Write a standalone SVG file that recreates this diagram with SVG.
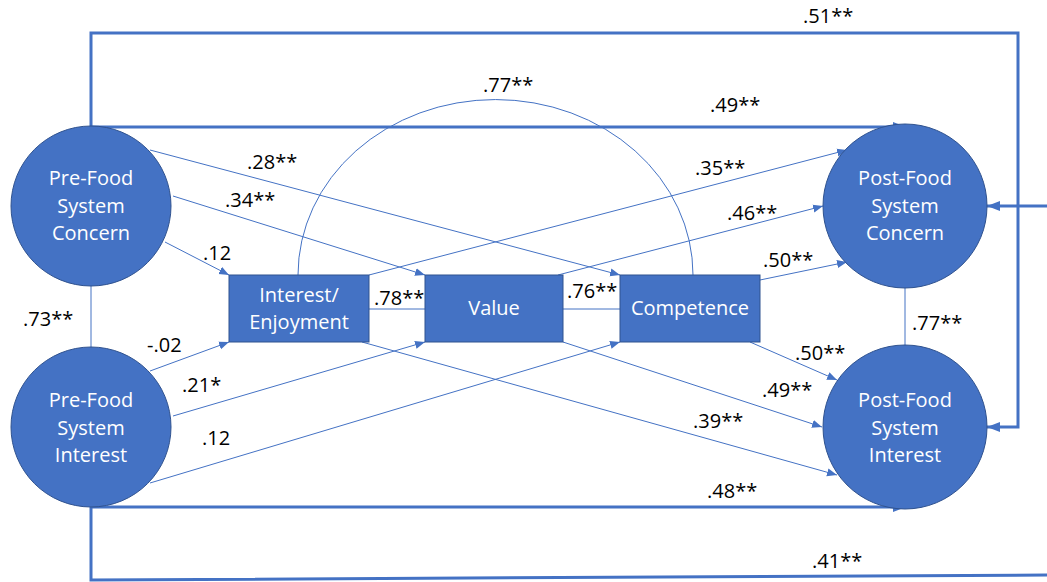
<svg xmlns="http://www.w3.org/2000/svg" width="1047" height="582" viewBox="0 0 1047 582">
  <style>
    .node { fill: #4472c4; stroke: #2f528f; stroke-width: 1; }
    .ntxt { fill: #ffffff; font-family: "Open Sans", "Liberation Sans", sans-serif; font-size: 20px; text-anchor: middle; }
    .lbl { fill: #000000; font-family: "Open Sans", "Liberation Sans", sans-serif; font-size: 20px; }
    .thin { fill: none; stroke: #4472c4; stroke-width: 1; }
    .thick { fill: none; stroke: #4472c4; stroke-width: 3; }
  </style>
  <defs>
    <marker id="arrSm" markerUnits="userSpaceOnUse" markerWidth="10" markerHeight="10" viewBox="0 0 10 10" refX="10" refY="5" orient="auto">
      <path d="M0,1 L10,5 L0,9 Z" fill="#4472c4"/>
    </marker>
    <marker id="arrLg" markerUnits="userSpaceOnUse" markerWidth="13" markerHeight="12" viewBox="0 0 13 12" refX="13" refY="6" orient="auto">
      <path d="M0,1 L13,6 L0,11 Z" fill="#4472c4"/>
    </marker>
  </defs>

  <rect width="1047" height="582" fill="#ffffff"/>

  <g id="connectors">
    <!-- correlations (no heads) -->
    <line class="thin" x1="91" y1="285" x2="91" y2="347"/>
    <line class="thin" x1="905" y1="285" x2="905" y2="347"/>
    <line class="thin" x1="369" y1="309" x2="425" y2="309"/>
    <line class="thin" x1="563" y1="309" x2="620" y2="309"/>
    <path class="thin" d="M298,275 A197,175 0 0 1 693,275"/>

    <!-- pre-concern to mediators -->
    <line class="thin" x1="165" y1="242" x2="229" y2="275" marker-end="url(#arrSm)"/>
    <line class="thin" x1="173" y1="196" x2="425" y2="275" marker-end="url(#arrSm)"/>
    <line class="thin" x1="150" y1="150" x2="620" y2="275" marker-end="url(#arrSm)"/>

    <!-- pre-interest to mediators -->
    <line class="thin" x1="150" y1="371" x2="229" y2="342" marker-end="url(#arrSm)"/>
    <line class="thin" x1="173" y1="416" x2="425" y2="342" marker-end="url(#arrSm)"/>
    <line class="thin" x1="150" y1="483" x2="620" y2="342" marker-end="url(#arrSm)"/>

    <!-- mediators to post-concern -->
    <line class="thin" x1="369" y1="275" x2="847" y2="150" marker-end="url(#arrSm)"/>
    <line class="thin" x1="558" y1="275" x2="823" y2="206" marker-end="url(#arrSm)"/>
    <line class="thin" x1="760" y1="280" x2="847" y2="262" marker-end="url(#arrSm)"/>

    <!-- mediators to post-interest -->
    <line class="thin" x1="750" y1="342" x2="837" y2="380" marker-end="url(#arrSm)"/>
    <line class="thin" x1="563" y1="342" x2="822" y2="427" marker-end="url(#arrSm)"/>
    <line class="thin" x1="362" y1="342" x2="837" y2="475" marker-end="url(#arrSm)"/>

    <!-- stability paths -->
    <line class="thick" x1="91" y1="127" x2="906" y2="127" marker-end="url(#arrLg)"/>
    <line class="thick" x1="91" y1="507" x2="906" y2="507" marker-end="url(#arrLg)"/>

    <!-- cross-lagged paths -->
    <path class="thick" d="M91,127 L91,33 L1018,33 L1018,427 L987,427" marker-end="url(#arrLg)"/>
    <path class="thick" d="M91,507 L91,580 L1050,575"/>
    <line class="thick" x1="1050" y1="206" x2="987" y2="206" marker-end="url(#arrLg)"/>
  </g>

  <g id="pre-concern">
    <circle class="node" cx="91" cy="206" r="80"/>
    <text class="ntxt" x="91" y="185">Pre-Food</text>
    <text class="ntxt" x="91" y="213">System</text>
    <text class="ntxt" x="91" y="240">Concern</text>
  </g>
  <g id="pre-interest">
    <circle class="node" cx="91" cy="427" r="80"/>
    <text class="ntxt" x="91" y="407">Pre-Food</text>
    <text class="ntxt" x="91" y="435">System</text>
    <text class="ntxt" x="91" y="462">Interest</text>
  </g>
  <g id="post-concern">
    <circle class="node" cx="905" cy="206" r="82"/>
    <text class="ntxt" x="905" y="185">Post-Food</text>
    <text class="ntxt" x="905" y="213">System</text>
    <text class="ntxt" x="905" y="240">Concern</text>
  </g>
  <g id="post-interest">
    <circle class="node" cx="905" cy="427" r="82"/>
    <text class="ntxt" x="905" y="407">Post-Food</text>
    <text class="ntxt" x="905" y="435">System</text>
    <text class="ntxt" x="905" y="462">Interest</text>
  </g>
  <g id="interest-enjoyment">
    <rect class="node" x="229" y="275" width="140" height="67"/>
    <text class="ntxt" x="299" y="302">Interest/</text>
    <text class="ntxt" x="299" y="329">Enjoyment</text>
  </g>
  <g id="value">
    <rect class="node" x="425" y="275" width="138" height="67"/>
    <text class="ntxt" x="494" y="315">Value</text>
  </g>
  <g id="competence">
    <rect class="node" x="620" y="275" width="140" height="67"/>
    <text class="ntxt" x="690" y="315">Competence</text>
  </g>

  <g id="labels">
    <text class="lbl" x="803" y="23">.51**</text>
    <text class="lbl" x="710" y="112">.49**</text>
    <text class="lbl" x="483" y="92">.77**</text>
    <text class="lbl" x="247" y="169">.28**</text>
    <text class="lbl" x="225" y="207">.34**</text>
    <text class="lbl" x="203" y="260">.12</text>
    <text class="lbl" x="695" y="175">.35**</text>
    <text class="lbl" x="727" y="220">.46**</text>
    <text class="lbl" x="763" y="267">.50**</text>
    <text class="lbl" x="23" y="326">.73**</text>
    <text class="lbl" x="374" y="305">.78**</text>
    <text class="lbl" x="567" y="298">.76**</text>
    <text class="lbl" x="912" y="330">.77**</text>
    <text class="lbl" x="147" y="352">-.02</text>
    <text class="lbl" x="182" y="392">.21*</text>
    <text class="lbl" x="202" y="445">.12</text>
    <text class="lbl" x="795" y="360">.50**</text>
    <text class="lbl" x="762" y="397">.49**</text>
    <text class="lbl" x="693" y="428">.39**</text>
    <text class="lbl" x="707" y="498">.48**</text>
    <text class="lbl" x="812" y="568">.41**</text>
  </g>
</svg>
